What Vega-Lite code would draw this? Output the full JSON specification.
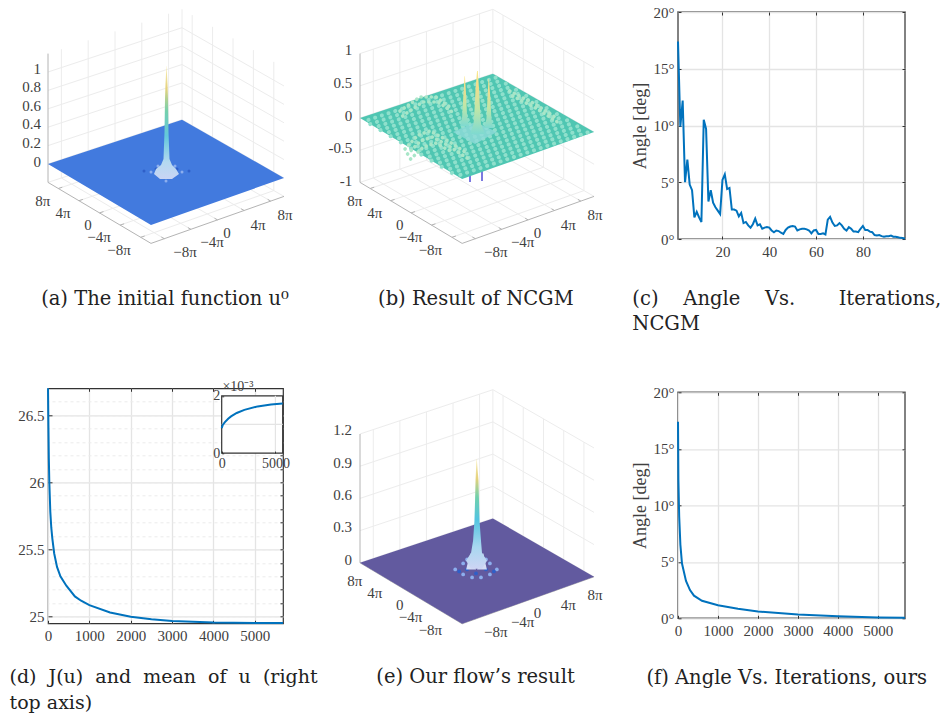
{"$schema":"https://vega.github.io/schema/vega-lite/v6.json","background":"white","padding":{"left":8,"top":4,"right":0,"bottom":0},"columns":3,"spacing":{"row":149.3,"column":77},"bounds":"flush","align":"each",
"config":{"font":"Liberation Serif","view":{"stroke":null},"axis":{"labelFont":"Liberation Serif","titleFont":"Liberation Serif","labelFontSize":15,"titleFontSize":18,"labelColor":"#404040","titleColor":"#404040","titleFontWeight":"normal","gridColor":"#e4e4e4","gridWidth":1.3,"tickColor":"#333333","domain":false,"labelFlush":false}},
"datasets":{
"box":[{"id":"a1","h":13.4,"v":61},{"id":"a1","h":13.4,"v":189.8},{"id":"a2","h":40.2,"v":69.9},{"id":"a2","h":40.2,"v":198.7},{"id":"a3","h":67,"v":78.8},{"id":"a3","h":67,"v":207.6},{"id":"a4","h":93.8,"v":87.6},{"id":"a4","h":93.8,"v":216.4},{"id":"a5","h":120.6,"v":96.5},{"id":"a5","h":120.6,"v":225.3},{"id":"b0","h":134,"v":100.9},{"id":"b0","h":134,"v":229.7},{"id":"b1","h":144.2,"v":95.1},{"id":"b1","h":144.2,"v":223.9},{"id":"b2","h":164.6,"v":83.4},{"id":"b2","h":164.6,"v":212.2},{"id":"b3","h":185,"v":71.8},{"id":"b3","h":185,"v":200.6},{"id":"b4","h":205.4,"v":60.1},{"id":"b4","h":205.4,"v":188.9},{"id":"b5","h":225.8,"v":48.4},{"id":"b5","h":225.8,"v":177.2},
{"id":"f1","h":10.3,"v":50.5},{"id":"f1","h":144.2,"v":95.1},{"id":"f2","h":30.9,"v":38.3},{"id":"f2","h":164.6,"v":83.4},{"id":"f3","h":51.5,"v":26.1},{"id":"f3","h":185,"v":71.8},{"id":"f4","h":72.1,"v":13.9},{"id":"f4","h":205.4,"v":60.1},{"id":"f5","h":92.7,"v":1.7},{"id":"f5","h":225.8,"v":48.4},
{"id":"g1","h":116.3,"v":0.3},{"id":"g1","h":13.4,"v":61},{"id":"g2","h":142.9,"v":9.7},{"id":"g2","h":40.2,"v":69.9},{"id":"g3","h":169.5,"v":19.1},{"id":"g3","h":67,"v":78.8},{"id":"g4","h":196.1,"v":28.5},{"id":"g4","h":93.8,"v":87.6},{"id":"g5","h":222.7,"v":37.9},{"id":"g5","h":120.6,"v":96.5},
{"id":"e","h":0,"v":56.6},{"id":"e","h":134,"v":100.9},{"id":"e","h":236,"v":42.6}],
"edges":[{"id":"z","h":0,"v":56.6},{"id":"z","h":0,"v":185.4},{"id":"l","h":0,"v":56.6},{"id":"l","h":103,"v":-4.4},{"id":"r","h":103,"v":-4.4},{"id":"r","h":236,"v":42.6},
{"id":"t1","h":10.3,"v":50.5},{"id":"t1","h":14.3,"v":51.8},{"id":"t2","h":30.9,"v":38.3},{"id":"t2","h":34.9,"v":39.6},{"id":"t3","h":51.5,"v":26.1},{"id":"t3","h":55.5,"v":27.4},{"id":"t4","h":72.1,"v":13.9},{"id":"t4","h":76.1,"v":15.2},{"id":"t5","h":92.7,"v":1.7},{"id":"t5","h":96.7,"v":3},
{"id":"u1","h":113.3,"v":2},{"id":"u1","h":116.3,"v":0.3},{"id":"u2","h":139.9,"v":11.4},{"id":"u2","h":142.9,"v":9.7},{"id":"u3","h":166.5,"v":20.8},{"id":"u3","h":169.5,"v":19.1},{"id":"u4","h":193.1,"v":30.2},{"id":"u4","h":196.1,"v":28.5},{"id":"u5","h":219.7,"v":39.6},{"id":"u5","h":222.7,"v":37.9}],
"floorLabels":[{"h":-5.3,"v":38.3,"t":"8π"},{"h":15,"v":26,"t":"4π"},{"h":40,"v":14,"t":"0"},{"h":51,"v":2,"t":"−4π"},{"h":71,"v":-11,"t":"−8π"},{"h":137,"v":-13,"t":"−8π"},{"h":164,"v":-3,"t":"−4π"},{"h":179,"v":6,"t":"0"},{"h":210,"v":14,"t":"4π"},{"h":237,"v":24,"t":"8π"}],
"levels4":[{"id":"l1","h":0,"v":88.8},{"id":"l1","h":134,"v":133.1},{"id":"l1","h":236,"v":74.8},{"id":"l2","h":0,"v":121},{"id":"l2","h":134,"v":165.3},{"id":"l2","h":236,"v":107},{"id":"l3","h":0,"v":153.2},{"id":"l3","h":134,"v":197.5},{"id":"l3","h":236,"v":139.2},{"id":"l4","h":0,"v":185.4},{"id":"l4","h":134,"v":229.7},{"id":"l4","h":236,"v":171.4}]
},
"concat":[
{"width":235,"height":227,"encoding":{"x":{"field":"h","type":"quantitative","scale":{"domain":[0,235],"nice":false,"zero":false},"axis":null},"y":{"field":"v","type":"quantitative","scale":{"domain":[0,227],"nice":false,"zero":false},"axis":null}},
"layer":[
{"data":{"name":"box"},"mark":{"type":"line","color":"#ececec","strokeWidth":1},"encoding":{"detail":{"field":"id"}}},
{"data":{"values":[{"id":"l1","h":0,"v":75},{"id":"l1","h":134,"v":119.3},{"id":"l1","h":236,"v":61},{"id":"l2","h":0,"v":93.4},{"id":"l2","h":134,"v":137.7},{"id":"l2","h":236,"v":79.4},{"id":"l3","h":0,"v":111.8},{"id":"l3","h":134,"v":156.1},{"id":"l3","h":236,"v":97.8},{"id":"l4","h":0,"v":130.2},{"id":"l4","h":134,"v":174.5},{"id":"l4","h":236,"v":116.2},{"id":"l5","h":0,"v":148.6},{"id":"l5","h":134,"v":192.9},{"id":"l5","h":236,"v":134.6},{"id":"l6","h":0,"v":167},{"id":"l6","h":134,"v":211.3},{"id":"l6","h":236,"v":153}]},"mark":{"type":"line","color":"#ececec","strokeWidth":1},"encoding":{"detail":{"field":"id"}}},
{"data":{"name":"edges"},"mark":{"type":"line","color":"#b4b4b4","strokeWidth":1},"encoding":{"detail":{"field":"id"}}},
{"data":{"values":[{"h":0,"v":75,"v2":75},{"h":103,"v":14,"v2":109},{"h":134,"v":25,"v2":119.3},{"h":236,"v":61,"v2":61}]},"mark":{"type":"area","color":"#427ade","line":false},"encoding":{"y2":{"field":"v2"}}},
{"data":{"values":[{"h":108,"v":70,"c":"d"},{"h":129,"v":70,"c":"d"},{"h":112,"v":63,"c":"d"},{"h":125,"v":63,"c":"d"},{"h":103,"v":67,"c":"p"},{"h":134,"v":67,"c":"p"},{"h":118,"v":58,"c":"p"},{"h":110,"v":73,"c":"p"},{"h":127,"v":73,"c":"p"},{"h":96,"v":68,"c":"d"},{"h":141,"v":68,"c":"d"}]},"mark":{"type":"point","filled":true,"size":9,"opacity":1},"encoding":{"color":{"field":"c","type":"nominal","legend":null,"scale":{"domain":["d","p"],"range":["#2f5fc8","#8caeee"]}}}},
{"data":{"values":[{"h":112,"h2":124,"v":60},{"h":106,"h2":131,"v":65},{"h":108,"h2":128,"v":70},{"h":113,"h2":124,"v":74},{"h":115.5,"h2":121.5,"v":80},{"h":116.5,"h2":120.5,"v":107},{"h":117,"h2":120,"v":140},{"h":117.5,"h2":119.5,"v":155},{"h":118.4,"h2":118.6,"v":173}]},"mark":{"type":"area","orient":"horizontal","color":{"gradient":"linear","x1":0,"x2":0,"y1":1,"y2":0,"stops":[{"offset":0,"color":"#c9d4f4"},{"offset":0.15,"color":"#b4d9f0"},{"offset":0.38,"color":"#63c8dc"},{"offset":0.6,"color":"#74d0ac"},{"offset":0.8,"color":"#e5d27c"},{"offset":1,"color":"#f8eeb8"}]}},"encoding":{"x2":{"field":"h2"}}},
{"data":{"name":"floorLabels"},"mark":{"type":"text","fontSize":15,"color":"#404040"},"encoding":{"text":{"field":"t"}}},
{"data":{"values":[{"h":-7,"v":170,"t":"1"},{"h":-7,"v":152,"t":"0.8"},{"h":-7,"v":133,"t":"0.6"},{"h":-7,"v":115,"t":"0.4"},{"h":-7,"v":96,"t":"0.2"},{"h":-7,"v":77,"t":"0"}]},"mark":{"type":"text","fontSize":15,"color":"#404040","align":"right"},"encoding":{"text":{"field":"t"}}},
{"data":{"values":[{"h":117,"v":-60,"t":"(a) The initial function u⁰"}]},"mark":{"type":"text","fontSize":19.5,"font":"DejaVu Serif","color":"#222222"},"encoding":{"text":{"field":"t"}}}
]},
{"width":241,"height":227,"encoding":{"x":{"field":"h","type":"quantitative","scale":{"domain":[0,243],"nice":false,"zero":false},"axis":null},"y":{"field":"v","type":"quantitative","scale":{"domain":[0,227],"nice":false,"zero":false},"axis":null}},
"layer":[
{"data":{"name":"box"},"mark":{"type":"line","color":"#ececec","strokeWidth":1},"encoding":{"detail":{"field":"id"}}},
{"data":{"name":"levels4"},"mark":{"type":"line","color":"#ececec","strokeWidth":1},"encoding":{"detail":{"field":"id"}}},
{"data":{"name":"edges"},"mark":{"type":"line","color":"#b4b4b4","strokeWidth":1},"encoding":{"detail":{"field":"id"}}},
{"data":{"values":[{"h":110.9,"v":75,"v2":57},{"h":123,"v":75,"v2":58}]},"mark":{"type":"rule","color":"#7b79e0","strokeWidth":2},"encoding":{"y2":{"field":"v2"}}},
{"data":{"values":[{"h":0,"v":121,"v2":121},{"h":103,"v":60,"v2":155},{"h":134,"v":71,"v2":165.3},{"h":236,"v":107,"v2":107}]},"mark":{"type":"area","color":"#4fc6b2","line":false},"encoding":{"y2":{"field":"v2"}}},
{"data":{"values":[{"i":1,"h":8.5,"v":119.05},{"i":1,"h":139.15,"v":162.25},{"i":2,"h":10.3,"v":114.9},{"i":2,"h":144.3,"v":159.2},{"i":3,"h":18.8,"v":112.95},{"i":3,"h":149.45,"v":156.15},{"i":4,"h":20.6,"v":108.8},{"i":4,"h":154.6,"v":153.1},{"i":5,"h":29.1,"v":106.85},{"i":5,"h":159.75,"v":150.05},{"i":6,"h":30.9,"v":102.7},{"i":6,"h":164.9,"v":147},{"i":7,"h":39.4,"v":100.75},{"i":7,"h":170.05,"v":143.95},{"i":8,"h":41.2,"v":96.6},{"i":8,"h":175.2,"v":140.9},{"i":9,"h":49.7,"v":94.65},{"i":9,"h":180.35,"v":137.85},{"i":10,"h":51.5,"v":90.5},{"i":10,"h":185.5,"v":134.8},{"i":11,"h":60,"v":88.55},{"i":11,"h":190.65,"v":131.75},{"i":12,"h":61.8,"v":84.4},{"i":12,"h":195.8,"v":128.7},{"i":13,"h":70.3,"v":82.45},{"i":13,"h":200.95,"v":125.65},{"i":14,"h":72.1,"v":78.3},{"i":14,"h":206.1,"v":122.6},{"i":15,"h":80.6,"v":76.35},{"i":15,"h":211.25,"v":119.55},{"i":16,"h":82.4,"v":72.2},{"i":16,"h":216.4,"v":116.5},{"i":17,"h":90.9,"v":70.25},{"i":17,"h":221.55,"v":113.45},{"i":18,"h":92.7,"v":66.1},{"i":18,"h":226.7,"v":110.4},{"i":19,"h":101.2,"v":64.15},{"i":19,"h":231.85,"v":107.35}]},"mark":{"type":"line","color":"#8fe0cc","strokeWidth":4,"strokeCap":"round","strokeDash":[0.1,6.95]},"encoding":{"detail":{"field":"i"}}},
{"data":{"values":[{"id":"a","h":45.4,"v":90},{"id":"a","h":58.5,"v":104},{"id":"a","h":70.6,"v":108},{"id":"a","h":85.7,"v":100},{"id":"a","h":105.9,"v":87},{"id":"a2","h":48,"v":85},{"id":"a2","h":61,"v":98},{"id":"a2","h":73,"v":102},{"id":"a2","h":88,"v":94},{"id":"a2","h":108,"v":81},{"id":"a3","h":51,"v":80},{"id":"a3","h":64,"v":92},{"id":"a3","h":76,"v":96},{"id":"a3","h":91,"v":88},{"id":"b","h":40.3,"v":128},{"id":"b","h":60.5,"v":142},{"id":"b","h":76.6,"v":142},{"id":"b","h":90.7,"v":132},{"id":"b2","h":43,"v":123},{"id":"b2","h":63,"v":137},{"id":"b2","h":79,"v":137},{"id":"b2","h":93,"v":127},{"id":"c","h":151,"v":148},{"id":"c","h":176.4,"v":135},{"id":"c","h":196.6,"v":122},{"id":"c2","h":154,"v":143},{"id":"c2","h":179,"v":130},{"id":"c2","h":199,"v":117}]},"mark":{"type":"line","color":"#a8e6c8","strokeWidth":3.6,"strokeCap":"round","strokeDash":[0.1,5]},"encoding":{"detail":{"field":"id"}}},
{"data":{"values":[{"h":93.8,"v":107,"v2":107},{"h":116,"v":95,"v2":117},{"h":138,"v":107,"v2":107}]},"mark":{"type":"area","color":"#8edbd8","opacity":0.8},"encoding":{"y2":{"field":"v2"}}},
{"data":{"values":[{"g":"l","h":101,"h2":110,"v":113},{"g":"l","h":103,"h2":108,"v":122},{"g":"l","h":104,"h2":107.2,"v":140},{"g":"l","h":105.4,"h2":105.8,"v":162.7},{"g":"c","h":111,"h2":126,"v":105},{"g":"c","h":114.5,"h2":122,"v":115},{"g":"c","h":115.5,"h2":121,"v":130},{"g":"c","h":116.5,"h2":120,"v":150},{"g":"c","h":118,"h2":118.8,"v":168},{"g":"r","h":125,"h2":134,"v":111},{"g":"r","h":127.5,"h2":132.5,"v":120},{"g":"r","h":128.5,"h2":131.5,"v":140},{"g":"r","h":129.6,"h2":130,"v":160}]},"mark":{"type":"area","orient":"horizontal","color":{"gradient":"linear","x1":0,"x2":0,"y1":1,"y2":0,"stops":[{"offset":0,"color":"#7fdad0"},{"offset":0.4,"color":"#bfe6a8"},{"offset":0.75,"color":"#f0dc8c"},{"offset":1,"color":"#fbe88a"}]}},"encoding":{"x2":{"field":"h2"},"detail":{"field":"g"}}},
{"data":{"name":"floorLabels"},"mark":{"type":"text","fontSize":15,"color":"#404040"},"encoding":{"text":{"field":"t"}}},
{"data":{"values":[{"h":-7.7,"v":189,"t":"1"},{"h":-7.7,"v":156,"t":"0.5"},{"h":-7.7,"v":123,"t":"0"},{"h":-7.7,"v":91,"t":"-0.5"},{"h":-7.7,"v":58,"t":"-1"}]},"mark":{"type":"text","fontSize":15,"color":"#404040","align":"right"},"encoding":{"text":{"field":"t"}}},
{"data":{"values":[{"h":116.8,"v":-60,"t":"(b) Result of NCGM"}]},"mark":{"type":"text","fontSize":19.5,"font":"DejaVu Serif","color":"#222222"},"encoding":{"text":{"field":"t"}}}
]},
{"width":227,"height":227,"view":{"stroke":"#5a5a5a","strokeWidth":1.5},"resolve":{"axis":{"x":"independent","y":"independent"}},
"layer":[
{"data":{"values":[{"iter":1,"angle":17.4},{"iter":2,"angle":9.9},{"iter":3,"angle":12.2},{"iter":4,"angle":5},{"iter":5,"angle":7},{"iter":6,"angle":4.8},{"iter":7,"angle":4.3},{"iter":8,"angle":1.9},{"iter":9,"angle":2.4},{"iter":10,"angle":1.9},{"iter":11,"angle":1.5},{"iter":12,"angle":10.5},{"iter":13,"angle":9.7},{"iter":14,"angle":3.3},{"iter":15,"angle":4.3},{"iter":16,"angle":3.2},{"iter":17,"angle":2.8},{"iter":18,"angle":2.5},{"iter":19,"angle":2.2},{"iter":20,"angle":5.2},{"iter":21,"angle":5.7},{"iter":22,"angle":4.4},{"iter":23,"angle":4.5},{"iter":24,"angle":2.6},{"iter":25,"angle":2.6},{"iter":26,"angle":2.5},{"iter":27,"angle":2},{"iter":28,"angle":2.3},{"iter":29,"angle":1.4},{"iter":30,"angle":1.5},{"iter":31,"angle":1.2},{"iter":32,"angle":1},{"iter":33,"angle":1.3},{"iter":34,"angle":1.8},{"iter":35,"angle":1.2},{"iter":36,"angle":1.3},{"iter":37,"angle":0.9},{"iter":38,"angle":1},{"iter":39,"angle":1.05},{"iter":40,"angle":1},{"iter":41,"angle":0.75},{"iter":42,"angle":0.6},{"iter":43,"angle":0.75},{"iter":44,"angle":0.7},{"iter":45,"angle":0.55},{"iter":46,"angle":0.45},{"iter":47,"angle":0.8},{"iter":48,"angle":1},{"iter":49,"angle":1.1},{"iter":50,"angle":1.15},{"iter":51,"angle":1.1},{"iter":52,"angle":0.75},{"iter":53,"angle":0.85},{"iter":54,"angle":0.9},{"iter":55,"angle":0.9},{"iter":56,"angle":0.85},{"iter":57,"angle":0.75},{"iter":58,"angle":0.5},{"iter":59,"angle":0.75},{"iter":60,"angle":0.8},{"iter":61,"angle":0.45},{"iter":62,"angle":0.45},{"iter":63,"angle":0.5},{"iter":64,"angle":0.4},{"iter":65,"angle":1.7},{"iter":66,"angle":1.95},{"iter":67,"angle":1.45},{"iter":68,"angle":1.15},{"iter":69,"angle":1.2},{"iter":70,"angle":1.4},{"iter":71,"angle":1.2},{"iter":72,"angle":0.9},{"iter":73,"angle":0.75},{"iter":74,"angle":1.05},{"iter":75,"angle":0.9},{"iter":76,"angle":0.65},{"iter":77,"angle":0.65},{"iter":78,"angle":0.6},{"iter":79,"angle":0.9},{"iter":80,"angle":1.15},{"iter":81,"angle":0.8},{"iter":82,"angle":0.8},{"iter":83,"angle":0.65},{"iter":84,"angle":0.6},{"iter":85,"angle":0.35},{"iter":86,"angle":0.3},{"iter":87,"angle":0.35},{"iter":88,"angle":0.25},{"iter":89,"angle":0.2},{"iter":90,"angle":0.25},{"iter":91,"angle":0.25},{"iter":92,"angle":0.3},{"iter":93,"angle":0.2},{"iter":94,"angle":0.2},{"iter":95,"angle":0.15},{"iter":96,"angle":0.1},{"iter":97,"angle":0.08},{"iter":98,"angle":0.05}]},"mark":{"type":"line","color":"#0072BD","strokeWidth":2},"encoding":{"x":{"field":"iter","type":"quantitative","scale":{"domain":[1,98],"nice":false,"zero":false},"axis":{"orient":"bottom","values":[20,40,60,80],"title":null,"tickSize":-3,"labelPadding":8}},"y":{"field":"angle","type":"quantitative","scale":{"domain":[0,20],"nice":false},"axis":{"orient":"left","values":[0,5,10,15,20],"labelExpr":"datum.value + '°'","title":"Angle [deg]","titleFontSize":18,"tickSize":-3,"labelPadding":7,"titlePadding":4}}}},
{"data":{"values":[{"iter":-18.5,"angle":-5.29,"t":"(c)\u00a0\u00a0\u00a0\u00a0Angle\u00a0\u00a0\u00a0\u00a0Vs.\u00a0\u00a0\u00a0\u00a0\u00a0\u00a0\u00a0Iterations,"},{"iter":-18.5,"angle":-7.49,"t":"NCGM"}]},"mark":{"type":"text","fontSize":19.5,"font":"DejaVu Serif","color":"#222222","align":"left"},"encoding":{"x":{"field":"iter","type":"quantitative","scale":{"domain":[1,98],"nice":false,"zero":false},"axis":{"orient":"top","values":[20,40,60,80],"title":null,"labels":false,"grid":false,"tickSize":-3}},"y":{"field":"angle","type":"quantitative","scale":{"domain":[0,20],"nice":false},"axis":{"orient":"right","values":[0,5,10,15,20],"title":null,"labels":false,"grid":false,"tickSize":-3}},"text":{"field":"t"}}}
]},
{"width":235,"height":235,"view":{"stroke":"#333333","strokeWidth":1.2},"resolve":{"scale":{"x":"independent","y":"independent"},"axis":{"x":"independent","y":"independent"}},
"layer":[
{"data":{"values":[{"iter":0,"J":26.7},{"iter":10,"J":26.42},{"iter":20,"J":26.18},{"iter":32,"J":26},{"iter":56,"J":25.78},{"iter":80,"J":25.66},{"iter":105,"J":25.58},{"iter":150,"J":25.47},{"iter":218,"J":25.37},{"iter":300,"J":25.3},{"iter":443,"J":25.23},{"iter":650,"J":25.15},{"iter":800,"J":25.118},{"iter":1000,"J":25.085},{"iter":1500,"J":25.03},{"iter":2000,"J":24.998},{"iter":2500,"J":24.98},{"iter":3000,"J":24.968},{"iter":4000,"J":24.956},{"iter":5000,"J":24.953},{"iter":5680,"J":24.952}]},"mark":{"type":"line","color":"#0072BD","strokeWidth":2},"encoding":{"x":{"field":"iter","type":"quantitative","scale":{"domain":[0,5680],"nice":false,"zero":false},"axis":{"orient":"bottom","values":[0,1000,2000,3000,4000,5000],"format":"d","title":null,"tickSize":-3,"labelPadding":8}},"y":{"field":"J","type":"quantitative","scale":{"domain":[24.95,26.7],"nice":false,"zero":false},"axis":{"orient":"left","values":[25,25.5,26,26.5],"labelExpr":"'' + datum.value","title":null,"tickSize":-4,"labelPadding":8}}}},
{"data":{"values":[{"iter":-930,"J":24.552,"t":"(d)\u00a0\u00a0J(u)\u00a0\u00a0and\u00a0\u00a0mean\u00a0\u00a0of\u00a0\u00a0u\u00a0\u00a0(right"},{"iter":-930,"J":24.358,"t":"top axis)"}]},"mark":{"type":"text","fontSize":19,"font":"DejaVu Serif","color":"#222222","align":"left"},"encoding":{"x":{"field":"iter","type":"quantitative","scale":{"domain":[0,5680],"nice":false,"zero":false},"axis":{"orient":"top","values":[0,1000,2000,3000,4000,5000],"title":null,"labels":false,"grid":false,"tickSize":-3}},"y":{"field":"J","type":"quantitative","scale":{"domain":[24.95,26.7],"nice":false,"zero":false},"axis":{"orient":"right","values":[25,25.1,25.2,25.3,25.4,25.5,25.6,25.7,25.8,25.9,26,26.1,26.2,26.3,26.4,26.5,26.6],"title":null,"labels":false,"grid":true,"gridDash":[3,3],"gridColor":"#ececec","gridWidth":1,"tickSize":-3}},"text":{"field":"t"}}},
{"encoding":{"x":{"field":"iter","type":"quantitative","scale":{"domain":[0,5680],"range":[173.7,234.7],"nice":false,"zero":false},"axis":{"orient":"bottom","offset":-170.2,"values":[0,5000],"format":"d","title":null,"grid":false,"labelFontSize":14,"tickSize":-2,"labelPadding":5,"zindex":1}},"y":{"field":"mean","type":"quantitative","scale":{"domain":[0,2],"range":[64.8,7.5],"nice":false,"zero":true},"axis":{"orient":"left","offset":-173.7,"values":[0,1,2],"format":"d","title":null,"grid":false,"labelFontSize":14,"tickSize":-2,"labelPadding":4,"zindex":1}}},
"layer":[
{"data":{"values":[{"iter":0,"iter2":5680,"mean":0,"mean2":2}]},"mark":{"type":"rect","fill":"white","stroke":"#333333","strokeWidth":1.2},"encoding":{"x2":{"field":"iter2"},"y2":{"field":"mean2"}}},
{"data":{"values":[{"id":"a","iter":0,"mean":1},{"id":"a","iter":5680,"mean":1},{"id":"b","iter":5000,"mean":0},{"id":"b","iter":5000,"mean":2}]},"mark":{"type":"line","color":"#e4e4e4","strokeWidth":1.2},"encoding":{"detail":{"field":"id"}}},
{"data":{"values":[{"iter":0,"mean":0.87},{"iter":100,"mean":0.98},{"iter":300,"mean":1.08},{"iter":600,"mean":1.2},{"iter":870,"mean":1.28},{"iter":1400,"mean":1.4},{"iter":2110,"mean":1.51},{"iter":3350,"mean":1.63},{"iter":4590,"mean":1.7},{"iter":5680,"mean":1.73}]},"mark":{"type":"line","color":"#0072BD","strokeWidth":2}},
{"data":{"values":[{"iter":1518,"mean":2.3,"t":"×10⁻³"}]},"mark":{"type":"text","fontSize":14,"color":"#404040"},"encoding":{"text":{"field":"t"}}}
]}
]},
{"width":241,"height":235,"encoding":{"x":{"field":"h","type":"quantitative","scale":{"domain":[0,243],"nice":false,"zero":false},"axis":null},"y":{"field":"v","type":"quantitative","scale":{"domain":[-3.9,231.1],"nice":false,"zero":false},"axis":null}},
"layer":[
{"data":{"name":"box"},"mark":{"type":"line","color":"#ececec","strokeWidth":1},"encoding":{"detail":{"field":"id"}}},
{"data":{"name":"levels4"},"mark":{"type":"line","color":"#ececec","strokeWidth":1},"encoding":{"detail":{"field":"id"}}},
{"data":{"name":"edges"},"mark":{"type":"line","color":"#b4b4b4","strokeWidth":1},"encoding":{"detail":{"field":"id"}}},
{"data":{"values":[{"h":0,"v":56.6,"v2":56.6},{"h":103,"v":-4.4,"v2":90.6},{"h":134,"v":6.6,"v2":100.9},{"h":236,"v":42.6,"v2":42.6}]},"mark":{"type":"area","color":"#625a9f","line":false},"encoding":{"y2":{"field":"v2"}}},
{"data":{"values":[{"h":96,"v":50,"c":"p"},{"h":104,"v":56,"c":"p"},{"h":104,"v":45,"c":"p"},{"h":113,"v":42,"c":"p"},{"h":122,"v":42,"c":"p"},{"h":131,"v":45,"c":"p"},{"h":131,"v":56,"c":"p"},{"h":138,"v":50,"c":"p"},{"h":100,"v":48,"c":"d"},{"h":108,"v":50,"c":"d"},{"h":117,"v":46,"c":"d"},{"h":127,"v":50,"c":"d"},{"h":135,"v":48,"c":"d"},{"h":108,"v":60,"c":"p"},{"h":127,"v":60,"c":"p"}]},"mark":{"type":"point","filled":true,"size":14,"opacity":1},"encoding":{"color":{"field":"c","type":"nominal","legend":null,"scale":{"domain":["d","p"],"range":["#443a88","#b4b0e0"]}}}},
{"data":{"values":[{"g":"l","h":107,"h2":117,"v":50},{"g":"l","h":109,"h2":114,"v":58},{"g":"l","h":111.5,"h2":112.5,"v":66},{"g":"r","h":118,"h2":128,"v":50},{"g":"r","h":122,"h2":126,"v":58},{"g":"r","h":123.5,"h2":124.5,"v":66}]},"mark":{"type":"area","orient":"horizontal","color":"#d4dcf4"},"encoding":{"x2":{"field":"h2"},"detail":{"field":"g"}}},
{"data":{"values":[{"h":112,"h2":123,"v":50.6},{"h":107,"h2":128,"v":58.6},{"h":112,"h2":123,"v":66.6},{"h":114,"h2":122,"v":78.6},{"h":115.4,"h2":120.5,"v":98.6},{"h":116,"h2":120,"v":118.6},{"h":116.5,"h2":119.5,"v":138.6},{"h":117.5,"h2":117.7,"v":160.6}]},"mark":{"type":"area","orient":"horizontal","color":{"gradient":"linear","x1":0,"x2":0,"y1":1,"y2":0,"stops":[{"offset":0,"color":"#cdd4f4"},{"offset":0.2,"color":"#a8d8f0"},{"offset":0.45,"color":"#52c4e0"},{"offset":0.65,"color":"#70d0ac"},{"offset":0.82,"color":"#e5d27c"},{"offset":1,"color":"#f8eeb8"}]}},"encoding":{"x2":{"field":"h2"}}},
{"data":{"name":"floorLabels"},"mark":{"type":"text","fontSize":15,"color":"#404040"},"encoding":{"text":{"field":"t"}}},
{"data":{"values":[{"h":-8,"v":189.6,"t":"1.2"},{"h":-8,"v":156.6,"t":"0.9"},{"h":-8,"v":124.6,"t":"0.6"},{"h":-8,"v":92.6,"t":"0.3"},{"h":-8,"v":59.6,"t":"0"}]},"mark":{"type":"text","fontSize":15,"color":"#404040","align":"right"},"encoding":{"text":{"field":"t"}}},
{"data":{"values":[{"h":116.5,"v":-57.4,"t":"(e) Our flow’s result"}]},"mark":{"type":"text","fontSize":19.5,"font":"DejaVu Serif","color":"#222222"},"encoding":{"text":{"field":"t"}}}
]},
{"vconcat":[
{"width":227,"height":3.6,"data":{"values":[]},"mark":{"type":"text"}},
{"width":227,"height":226,"view":{"stroke":"#5a5a5a","strokeWidth":1.5},"resolve":{"axis":{"x":"independent","y":"independent"}},
"layer":[
{"data":{"values":[{"iter":0,"angle":17.4},{"iter":10,"angle":12.2},{"iter":30,"angle":9},{"iter":60,"angle":6.5},{"iter":100,"angle":4.85},{"iter":200,"angle":3.3},{"iter":300,"angle":2.5},{"iter":400,"angle":2},{"iter":600,"angle":1.55},{"iter":1000,"angle":1.15},{"iter":1500,"angle":0.85},{"iter":2000,"angle":0.6},{"iter":3000,"angle":0.33},{"iter":4000,"angle":0.18},{"iter":5000,"angle":0.08},{"iter":5680,"angle":0.04}]},"mark":{"type":"line","color":"#0072BD","strokeWidth":2},"encoding":{"x":{"field":"iter","type":"quantitative","scale":{"domain":[0,5680],"nice":false,"zero":false},"axis":{"orient":"bottom","values":[0,1000,2000,3000,4000,5000],"format":"d","title":null,"tickSize":-3,"labelPadding":8}},"y":{"field":"angle","type":"quantitative","scale":{"domain":[0,20],"nice":false},"axis":{"orient":"left","values":[0,5,10,15,20],"labelExpr":"datum.value + '°'","title":"Angle [deg]","titleFontSize":18,"tickSize":-3,"labelPadding":7,"titlePadding":4}}}},
{"data":{"values":[{"iter":2720,"angle":-5.31,"t":"(f) Angle Vs. Iterations, ours"}]},"mark":{"type":"text","fontSize":19.5,"font":"DejaVu Serif","color":"#222222"},"encoding":{"x":{"field":"iter","type":"quantitative","scale":{"domain":[0,5680],"nice":false,"zero":false},"axis":{"orient":"top","values":[1000,2000,3000,4000,5000],"title":null,"labels":false,"grid":false,"tickSize":-3}},"y":{"field":"angle","type":"quantitative","scale":{"domain":[0,20],"nice":false},"axis":{"orient":"right","values":[0,5,10,15,20],"title":null,"labels":false,"grid":false,"tickSize":-3}},"text":{"field":"t"}}}
]}
],"spacing":0,"bounds":"flush"}
]}
